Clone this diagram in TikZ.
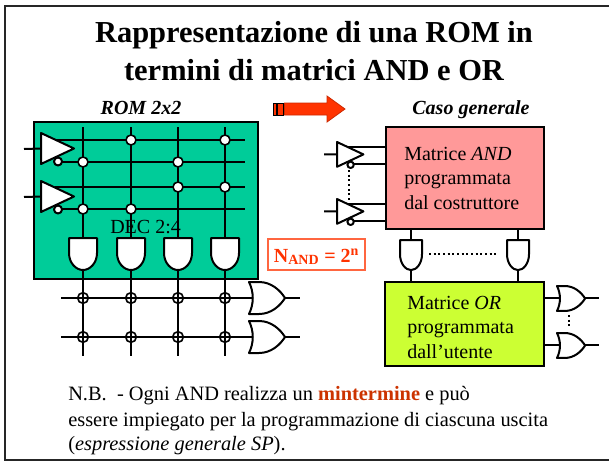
\documentclass[tikz,border=0pt]{standalone}
\usepackage{fontspec}
\setmainfont{Liberation Serif}
\usetikzlibrary{positioning}
\definecolor{romgreen}{HTML}{00CC99}
\definecolor{andpink}{HTML}{FF9999}
\definecolor{orlime}{HTML}{CCFF33}
\definecolor{redfill}{HTML}{FF3300}
\definecolor{mintred}{HTML}{CC3300}

\begin{document}
\begin{tikzpicture}[x=0.75pt, y=-0.75pt,
    wire/.style={line width=1.5pt, line cap=butt},
    gate/.style={line width=1.5pt, draw=black, fill=white, line join=round},
    dots/.style={line width=1.5pt, dash pattern=on 1.5pt off 2pt},
    junction/.style={circle, draw=black, fill=white, line width=1.2pt, inner sep=0pt, minimum size=7.5pt},
    fuse/.style={circle, draw=black, line width=1.2pt, inner sep=0pt, minimum size=8pt},
    matrix box/.style={rectangle, draw=black, line width=1.5pt, inner sep=0pt},
    title/.style={font=\fontsize{22.85}{28}\selectfont\bfseries, inner sep=0pt, anchor=base},
    caption/.style={font=\fontsize{15}{18}\selectfont\bfseries\itshape, inner sep=0pt, anchor=base},
    body/.style={font=\fontsize{15}{18.3}\selectfont, inner sep=0pt, anchor=base west, align=left},
    note/.style={font=\fontsize{15.3}{18.7}\selectfont, inner sep=0pt, anchor=base west},
    redstripe/.style={draw=black, line width=0.5pt, fill=redfill},
    andgate/.pic={
        \path[gate] (-14,0) -- (14,0) -- (14,15) .. controls (14,25) and (7,32) .. (0,32)
            .. controls (-7,32) and (-14,25) .. (-14,15) -- cycle;
        \coordinate (-in) at (0,0);
        \coordinate (-out) at (0,32);
    },
    orgate/.pic={
        \path[gate] (0,0) -- (10,0) .. controls (22,0) and (31,8) .. (36,16)
            .. controls (31,24) and (22,32) .. (10,32) -- (0,32)
            .. controls (5,22) and (5,10) .. (0,0) -- cycle;
        \coordinate (-in) at (3.5,16);
        \coordinate (-out) at (36,16);
    },
    invgate/.pic={
        \path[gate] (0,0) -- (33,15.5) -- (0,31) -- cycle;
        \path[gate] (17,28.5) circle (4);
        \coordinate (-in) at (0,15.5);
    }]
    \useasboundingbox (0,0) rectangle (609,461);

    % Frame and titles
    \draw[line width=1.5pt, black!85] (609,6) -- (4.7,6) -- (4.7,460) -- (609,460);
    \node[title] (title1) at (314,42) {Rappresentazione di una ROM in};
    \node[title] (title2) at (314,80) {termini di matrici AND e OR};
    \node[caption] (romcap) at (141,114) {ROM 2x2};
    \node[caption] (gencap) at (471,114) {Caso generale};

    % Striped arrow
    \path[redstripe] (273.5,103) rectangle (276,115);
    \path[redstripe] (277.5,103) rectangle (283,115);
    \path[draw=redfill!80!black, line width=0.6pt, fill=redfill] (284.5,103) -- (327,103) -- (327,96)
        -- (345,109) -- (327,122) -- (327,115) -- (284.5,115) -- cycle;

    % ROM 2x2
    \node[matrix box, fill=romgreen, minimum width=168pt, minimum height=117.75pt] (rombox) at (145.75,200.5) {};
    \node[body, font=\fontsize{15}{18}\selectfont] (dec) at (110,233) {DEC 2:4};
    \foreach \i/\x in {1/83,2/131,3/178,4/225} {
        \coordinate (vt\i) at (\x,127);
        \coordinate (vb\i) at (\x,356);
        \draw[wire] (vt\i) -- (vb\i);
    }
    \foreach \i/\y/\ya/\yb in {1/133/140/162,2/181/187/209} {
        \coordinate (ia\i) at (24,\y+16);
        \coordinate (ps\i) at (55,\ya);
        \coordinate (pe\i) at (245,\ya);
        \coordinate (ns\i) at (58,\yb);
        \coordinate (ne\i) at (245,\yb);
        \draw[wire] (ps\i) -- (pe\i);
        \draw[wire] (ns\i) -- (ne\i);
        \pic (inv\i) at (41,\y) {invgate};
        \draw[wire] (ia\i) -- (inv\i-in);
    }
    \foreach \i/\x/\y in {1/131/140,2/225/140,3/83/162,4/178/162,5/178/187,6/225/187,7/83/209,8/131/209}
        \node[junction] (d\i) at (\x,\y) {};
    \foreach \i/\x in {1/83,2/131,3/178,4/225}
        \pic (and\i) at (\x,238) {andgate};

    % OR plane
    \foreach \i/\y in {1/282,2/321} {
        \coordinate (ol\i) at (61,\y+16);
        \coordinate (oq\i) at (300,\y+16);
        \pic (or\i) at (249,\y) {orgate};
        \draw[wire] (ol\i) -- (or\i-in);
        \draw[wire] (or\i-out) -- (oq\i);
        \foreach \j/\x in {1/83,2/131,3/178,4/225}
            \node[fuse] (f\i\j) at (\x,\y+16) {};
    }

    % N_AND label
    \node[rectangle, draw=redfill!75, line width=0.8pt, fill=white, inner sep=0pt,
        minimum width=72.75pt, minimum height=23.25pt] (nand) at (316.5,254.5) {};
    \node[inner sep=0pt, anchor=base, text=redfill, font=\fontsize{15}{18}\selectfont\bfseries] (nandtxt)
        at (316.5,262) {N\textsubscript{AND} = 2\textsuperscript{n}};

    % Caso generale
    \node[matrix box, fill=andpink, minimum width=118.5pt, minimum height=76.5pt] (pinkbox) at (465,178) {};
    \node[matrix box, fill=orlime, minimum width=119.25pt, minimum height=63pt] (limebox) at (464.5,324) {};
    \node[body] (pinktxt) at (404,209) {Matrice \textit{AND}\\programmata\\dal costruttore};
    \node[body] (limetxt) at (407,358) {Matrice \textit{OR}\\programmata\\dall’utente};

    \foreach \i/\y in {1/142,2/199} {
        \coordinate (si\i) at (324,\y+12.4);
        \coordinate (sp\i) at (345,\y+5);
        \coordinate (sn\i) at (352,\y+22);
        \draw[wire] (sp\i) -- (pinkbox.west |- sp\i);
        \draw[wire] (sn\i) -- (pinkbox.west |- sn\i);
        \pic[scale=0.8] (sinv\i) at (337,\y) {invgate};
        \draw[wire] (si\i) -- (sinv\i-in);
    }
    \coordinate (sv1) at (349,170);
    \coordinate (sv2) at (349,200);
    \draw[dots] (sv1) -- (sv2);

    \foreach \i/\x in {1/411,2/518} {
        \pic[xscale=0.786, yscale=0.94] (sand\i) at (\x,240) {andgate};
        \draw[wire] (pinkbox.south -| sand\i-in) -- (sand\i-in);
        \draw[wire] (sand\i-out) -- (limebox.north -| sand\i-out);
    }
    \coordinate (hd1) at (429,254);
    \coordinate (hd2) at (499,254);
    \draw[dots] (hd1) -- (hd2);

    \foreach \i/\y in {1/286,2/333} {
        \pic[scale=0.78] (sor\i) at (557,\y) {orgate};
        \coordinate (sq\i) at (599,\y+12.48);
        \draw[wire] (limebox.east |- sor\i-in) -- (sor\i-in);
        \draw[wire] (sor\i-out) -- (sq\i);
    }
    \coordinate (od1) at (569,315);
    \coordinate (od2) at (569,328);
    \draw[dots] (od1) -- (od2);

    % Note
    \node[note] (nb1) at (68,400) {N.B.\ \ - Ogni AND realizza un \textcolor{mintred}{\textbf{mintermine}} e può};
    \node[note] (nb2) at (68,426) {essere impiegato per la programmazione di ciascuna uscita};
    \node[note] (nb3) at (68,450) {(\textit{espressione generale SP}).};
\end{tikzpicture}
\end{document}
